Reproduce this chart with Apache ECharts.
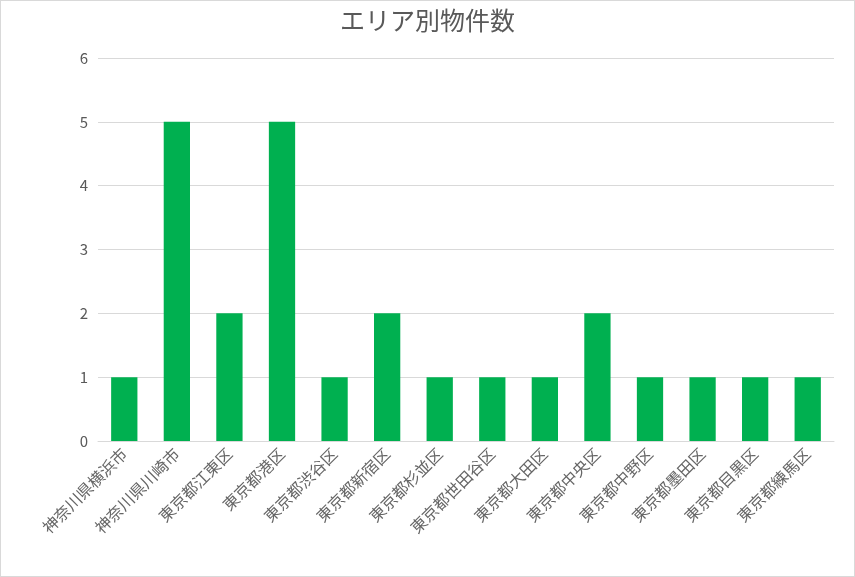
<!DOCTYPE html>
<html lang="ja">
<head>
    <meta charset="UTF-8">
    <title>エリア別物件数</title>
    <script src="https://cdn.jsdelivr.net/npm/echarts@6/dist/echarts.min.js"></script>
    <style>
        html, body { margin: 0; padding: 0; background: #fff; }
        #chart { width: 853px; height: 575px; border: 1px solid #d9d9d9; }
    </style>
</head>
<body>
<div id="chart"></div>
<script>
    const titleText = 'エリア別物件数';
    const areas = [
        '神奈川県横浜市', '神奈川県川崎市', '東京都江東区', '東京都港区', '東京都渋谷区',
        '東京都新宿区', '東京都杉並区', '東京都世田谷区', '東京都大田区', '東京都中央区',
        '東京都中野区', '東京都墨田区', '東京都目黒区', '東京都練馬区'
    ];
    const counts = [1, 5, 2, 5, 1, 2, 1, 1, 1, 2, 1, 1, 1, 1];
    const yMin = 0, yMax = 6, yStep = 1;

    const fontFamily = '"Noto Sans CJK JP", "Noto Sans", sans-serif';

    const chart = echarts.init(document.getElementById('chart'));
    chart.setOption({
        animation: false,
        title: {
            text: titleText,
            left: 'center',
            top: 2,
            textStyle: { fontFamily: fontFamily, fontSize: 25, fontWeight: 'normal', color: '#595959' }
        },
        grid: { left: 97, right: 20, top: 57, bottom: 135, containLabel: false },
        xAxis: {
            type: 'category',
            data: areas,
            axisLine: { lineStyle: { color: '#d9d9d9' } },
            axisTick: { show: false },
            axisLabel: {
                interval: 0,
                rotate: 45,
                margin: 10,
                fontFamily: fontFamily,
                fontSize: 16,
                color: '#666666'
            }
        },
        yAxis: {
            type: 'value',
            min: yMin,
            max: yMax,
            interval: yStep,
            axisLine: { show: false },
            axisTick: { show: false },
            splitLine: { lineStyle: { color: '#d9d9d9' } },
            axisLabel: { margin: 10, fontFamily: fontFamily, fontSize: 15, color: '#595959' }
        },
        series: [{
            type: 'bar',
            data: counts,
            barWidth: '50%',
            itemStyle: { color: '#00b050' }
        }]
    });
</script>
</body>
</html>
